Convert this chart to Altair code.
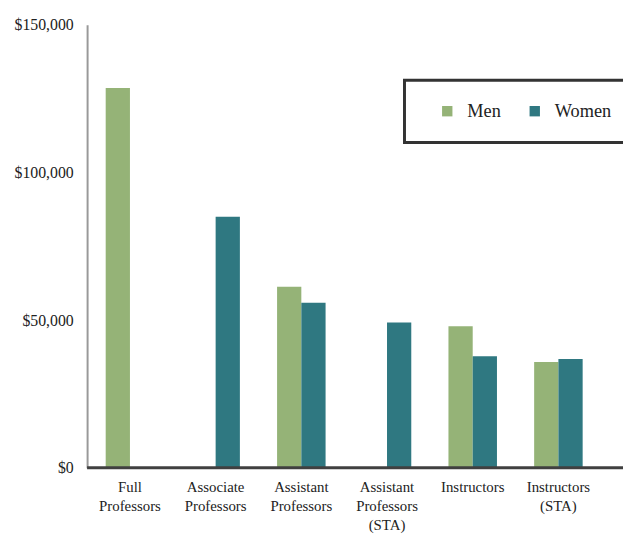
import altair as alt
import pandas as pd

categories = ["Full|Professors", "Associate|Professors", "Assistant|Professors",
              "Assistant|Professors|(STA)", "Instructors", "Instructors|(STA)"]
men = [128600, None, 61300, None, 47900, 35800]
women = [None, 85000, 55900, 49200, 37800, 36800]
genders = ["Men", "Women"]
colors = ["#95B377", "#2F7881"]
y_ticks = [0, 50000, 100000, 150000]

rows = []
for c, m, w in zip(categories, men, women):
    rows.append({"category": c, "gender": "Men", "salary": m})
    rows.append({"category": c, "gender": "Women", "salary": w})
df = pd.DataFrame(rows)

FONT = "Liberation Serif"

bars = alt.Chart(df).mark_bar().encode(
    x=alt.X("category:N", sort=categories, title=None,
            scale=alt.Scale(paddingInner=0.434, paddingOuter=0.217),
            axis=alt.Axis(labelAngle=0, domain=False, ticks=False, labelPadding=12,
                          labelBaseline="top", labelLineHeight=19, labelFontSize=15,
                          labelFont=FONT, labelColor="#222",
                          labelExpr="split(datum.label, '|')")),
    xOffset=alt.XOffset("gender:N", sort=genders),
    y=alt.Y("salary:Q", title=None,
            scale=alt.Scale(domain=[0, 150000], nice=False),
            axis=alt.Axis(values=y_ticks, format="$,.0f", grid=False, ticks=False,
                          domainColor="#999999", domainWidth=2, labelPadding=14,
                          labelFontSize=16, labelFont=FONT, labelColor="#222")),
    color=alt.Color("gender:N", sort=genders,
                    scale=alt.Scale(domain=genders, range=colors),
                    legend=alt.Legend(title=None, orient="none", legendX=321, legendY=56,
                                      direction="horizontal", symbolType="square",
                                      symbolSize=110, symbolStrokeWidth=0,
                                      labelFont=FONT, labelFontSize=18.5, labelColor="#222",
                                      padding=22, symbolOffset=12, labelOffset=11,
                                      columnPadding=12.5, strokeColor="#333333")),
).transform_filter("isValid(datum.salary)")

base = alt.Chart(pd.DataFrame({"v": [0]})).mark_rule(color="#404040", strokeWidth=3).encode(
    y="v:Q", x=alt.value(0), x2=alt.value(542)
)

chart = alt.layer(bars, base).properties(
    width=520, height=448,
    padding={"left": 80, "top": 14, "right": 22, "bottom": 66},
    autosize=alt.AutoSizeParams(type="none"),
).configure_view(stroke=None).configure_legend(strokeWidth=3)

chart.save("out.html", embed_options={"renderer": "svg", "actions": False})
